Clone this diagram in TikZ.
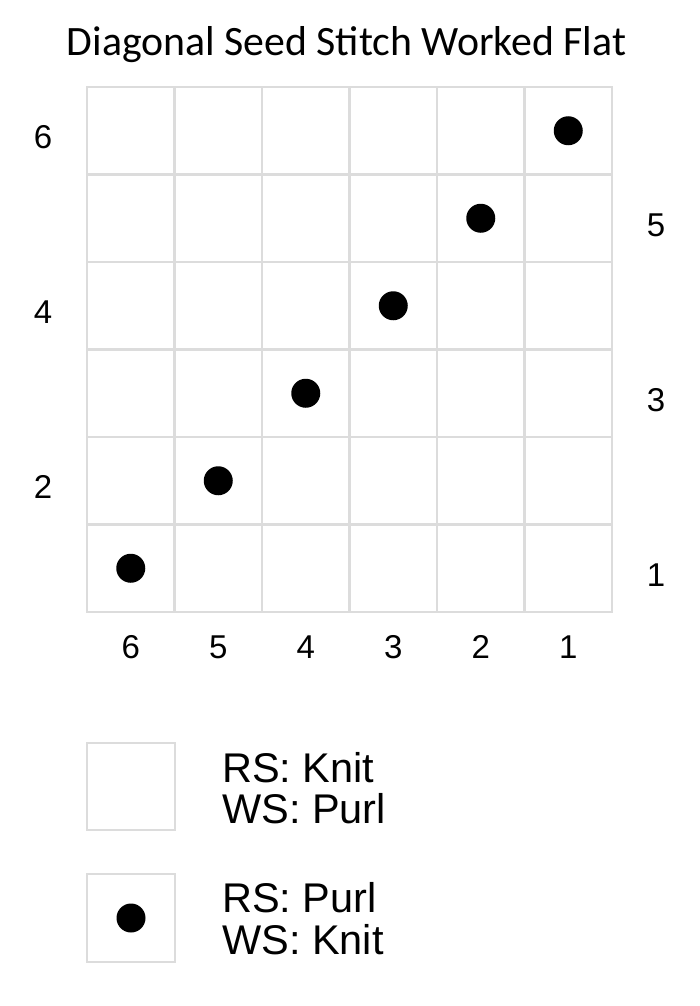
\documentclass[tikz,border=0pt]{standalone}
\usepackage{fontspec}
\setmainfont{Liberation Sans}
\newfontfamily\titlefont{Carlito}
\definecolor{gridgray}{HTML}{DCDCDC}

\begin{document}
\begin{tikzpicture}[x=1pt,y=1pt]
	\tikzstyle{every node}+=[inner sep=0pt]
	\tikzstyle{gridline}=[draw=gridgray, line width=2.4pt, line cap=rect]
	\tikzstyle{purl}=[circle, fill=black, minimum size=29pt]
	\tikzstyle{keybox}=[draw=gridgray, line width=2.4pt, minimum size=87.5pt]
	\tikzstyle{numlabel}=[anchor=base, font=\fontsize{33}{33}\selectfont]
	\tikzstyle{keytext}=[anchor=base west, font=\fontsize{41.5}{41.5}\selectfont]
	\useasboundingbox (0,0) rectangle (700,-1006);
	\node [anchor=base, font=\titlefont\fontsize{41.8}{41.8}\selectfont] (title) at (346.5,-56) {Diagonal Seed Stitch Worked Flat};
	% chart grid
	\foreach \i in {0,...,6} {
		\draw [gridline] (87+\i*87.5,-87) -- (87+\i*87.5,-612);
		\draw [gridline] (87,-87-\i*87.5) -- (612,-87-\i*87.5);
	}
	% purl stitches
	\foreach \i in {1,...,6}
		\node [purl] (p\i) at (43.25+\i*87.5,-655.75+\i*87.5) {};
	% row numbers
	\node [numlabel] (r6) at (43,-148.75) {6};
	\node [numlabel] (r4) at (43,-323.75) {4};
	\node [numlabel] (r2) at (43,-498.75) {2};
	\node [numlabel] (r5) at (656,-236.25) {5};
	\node [numlabel] (r3) at (656,-411.25) {3};
	\node [numlabel] (r1) at (656,-586.25) {1};
	% stitch numbers
	\foreach \c in {1,...,6}
		\node [numlabel] (c\c) at (655.75-\c*87.5,-658) {\c};
	% key
	\node [keybox] (knitbox) at (131,-786.5) {};
	\node [keytext] (knitrs) at (222,-782) {RS: Knit};
	\node [keytext] (knitws) at (222,-823.5) {WS: Purl};
	\node [keybox] (purlbox) at (131,-918) {};
	\node [purl] (keydot) at (purlbox) {};
	\node [keytext] (purlrs) at (222,-912) {RS: Purl};
	\node [keytext] (purlws) at (222,-954) {WS: Knit};
\end{tikzpicture}
\end{document}
